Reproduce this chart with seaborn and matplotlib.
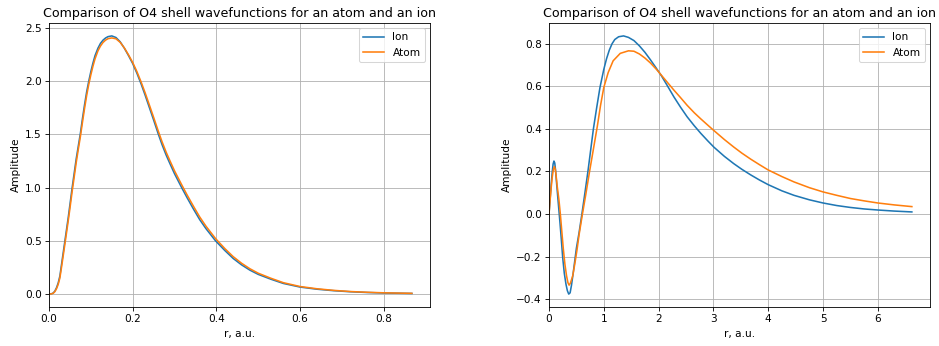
import matplotlib
matplotlib.use("Agg")
import matplotlib.pyplot as plt
import seaborn as sns

# ---- Left panel data ----
r_left = [0.000, 0.006, 0.010, 0.014, 0.018, 0.022, 0.026, 0.030, 0.034, 0.038,
          0.042, 0.046, 0.050, 0.055, 0.060, 0.065, 0.070, 0.075, 0.080, 0.085,
          0.090, 0.095, 0.100, 0.105, 0.110, 0.117, 0.123, 0.129, 0.135, 0.141,
          0.150, 0.160, 0.170, 0.180, 0.190, 0.200, 0.210, 0.220, 0.230, 0.240,
          0.250, 0.261, 0.270, 0.280, 0.289, 0.300, 0.317, 0.330, 0.345, 0.360,
          0.375, 0.398, 0.420, 0.440, 0.460, 0.480, 0.500, 0.530, 0.560, 0.600,
          0.640, 0.680, 0.720, 0.760, 0.800, 0.867]
ion_left = [0.000, 0.003, 0.010, 0.028, 0.060, 0.105, 0.170, 0.280, 0.390, 0.500,
            0.610, 0.720, 0.840, 0.990, 1.130, 1.270, 1.390, 1.510, 1.650, 1.780,
            1.900, 2.000, 2.090, 2.170, 2.240, 2.310, 2.355, 2.385, 2.405, 2.418,
            2.425, 2.410, 2.370, 2.310, 2.240, 2.165, 2.075, 1.975, 1.865, 1.750,
            1.635, 1.505, 1.405, 1.305, 1.225, 1.130, 1.000, 0.905, 0.800, 0.700,
            0.615, 0.500, 0.410, 0.335, 0.275, 0.225, 0.185, 0.140, 0.100, 0.066,
            0.046, 0.032, 0.022, 0.015, 0.010, 0.006]
atom_left = [0.000, 0.002, 0.008, 0.023, 0.051, 0.092, 0.152, 0.255, 0.362, 0.470,
             0.580, 0.690, 0.805, 0.955, 1.095, 1.235, 1.360, 1.480, 1.615, 1.745,
             1.865, 1.970, 2.060, 2.140, 2.210, 2.285, 2.330, 2.363, 2.385, 2.399,
             2.406, 2.398, 2.365, 2.312, 2.247, 2.175, 2.090, 1.993, 1.887, 1.774,
             1.660, 1.532, 1.432, 1.332, 1.252, 1.157, 1.027, 0.931, 0.826, 0.725,
             0.638, 0.521, 0.428, 0.352, 0.290, 0.238, 0.196, 0.149, 0.107, 0.071,
             0.050, 0.035, 0.024, 0.017, 0.012, 0.007]

# ---- Right panel data ----
r_right_ion = [0.00, 0.02, 0.04, 0.06, 0.075, 0.09, 0.105, 0.12, 0.14, 0.16,
               0.18, 0.20, 0.225, 0.25, 0.28, 0.31, 0.335, 0.36, 0.385, 0.41,
               0.44, 0.47, 0.50, 0.55, 0.60, 0.65, 0.71, 0.76, 0.81, 0.87,
               0.93, 1.00, 1.05, 1.10, 1.15, 1.20, 1.27, 1.36, 1.45, 1.55,
               1.65, 1.75, 1.85, 1.95, 2.05, 2.15, 2.28, 2.40, 2.52, 2.65,
               2.77, 2.90, 3.01, 3.20, 3.37, 3.52, 3.68, 3.84, 4.00, 4.25,
               4.47, 4.75, 5.00, 5.25, 5.50, 5.75, 6.00, 6.30, 6.62]
ion_right = [0.000, 0.070, 0.140, 0.200, 0.235, 0.249, 0.240, 0.205, 0.140, 0.080,
             0.020, -0.040, -0.120, -0.205, -0.280, -0.330, -0.360, -0.376, -0.370, -0.335,
             -0.280, -0.220, -0.160, -0.085, 0.000, 0.090, 0.200, 0.300, 0.400, 0.500,
             0.595, 0.680, 0.730, 0.770, 0.800, 0.820, 0.833, 0.837, 0.830, 0.815,
             0.790, 0.760, 0.725, 0.688, 0.650, 0.607, 0.550, 0.502, 0.457, 0.415,
             0.379, 0.343, 0.314, 0.271, 0.237, 0.210, 0.184, 0.160, 0.138, 0.109,
             0.088, 0.067, 0.052, 0.040, 0.031, 0.024, 0.019, 0.014, 0.010]

r_right_atom = [0.00, 0.02, 0.04, 0.06, 0.08, 0.098, 0.115, 0.13, 0.15, 0.18,
                0.207, 0.23, 0.26, 0.29, 0.32, 0.345, 0.366, 0.39, 0.433, 0.47,
                0.51, 0.55, 0.61, 0.67, 0.74, 0.81, 0.88, 0.94, 1.00, 1.08,
                1.17, 1.30, 1.45, 1.55, 1.65, 1.75, 1.85, 1.97, 2.10, 2.28,
                2.40, 2.52, 2.65, 2.77, 2.90, 3.01, 3.20, 3.37, 3.52, 3.68,
                3.84, 4.00, 4.25, 4.47, 4.75, 5.00, 5.25, 5.50, 5.75, 6.00,
                6.30, 6.62]
atom_right = [0.000, 0.065, 0.125, 0.175, 0.210, 0.223, 0.210, 0.180, 0.130, 0.070,
              0.000, -0.070, -0.160, -0.235, -0.290, -0.322, -0.334, -0.325, -0.290, -0.235,
              -0.170, -0.095, 0.000, 0.090, 0.200, 0.305, 0.410, 0.510, 0.595, 0.665,
              0.720, 0.755, 0.767, 0.765, 0.752, 0.733, 0.710, 0.677, 0.637, 0.582,
              0.547, 0.511, 0.476, 0.447, 0.417, 0.392, 0.350, 0.315, 0.286, 0.258,
              0.232, 0.207, 0.176, 0.151, 0.124, 0.104, 0.088, 0.073, 0.062, 0.052,
              0.043, 0.035]

title = "Comparison of O4 shell wavefunctions for an atom and an ion"

DPI = 75.6
fig, axes = plt.subplots(1, 2, figsize=(939 / DPI, 346 / DPI), dpi=DPI)
fig.subplots_adjust(left=49 / 939, right=930 / 939, bottom=1 - 307 / 346,
                    top=1 - 23 / 346, wspace=119 / 381)

panels = [
    (axes[0], r_left, ion_left, r_left, atom_left),
    (axes[1], r_right_ion, ion_right, r_right_atom, atom_right),
]
for ax, rx_i, yi, rx_a, ya in panels:
    sns.lineplot(x=rx_i, y=yi, ax=ax, label="Ion", color="#1f77b4",
                 sort=False, estimator=None, linewidth=1.5)
    sns.lineplot(x=rx_a, y=ya, ax=ax, label="Atom", color="#ff7f0e",
                 sort=False, estimator=None, linewidth=1.5)
    ax.set_xlim(left=0)
    ax.grid(True)
    ax.set_title(title)
    ax.set_xlabel("r, a.u.")
    ax.set_ylabel("Amplitude")
    ax.legend(loc="upper right")

fig.savefig("out.png", dpi=DPI)
